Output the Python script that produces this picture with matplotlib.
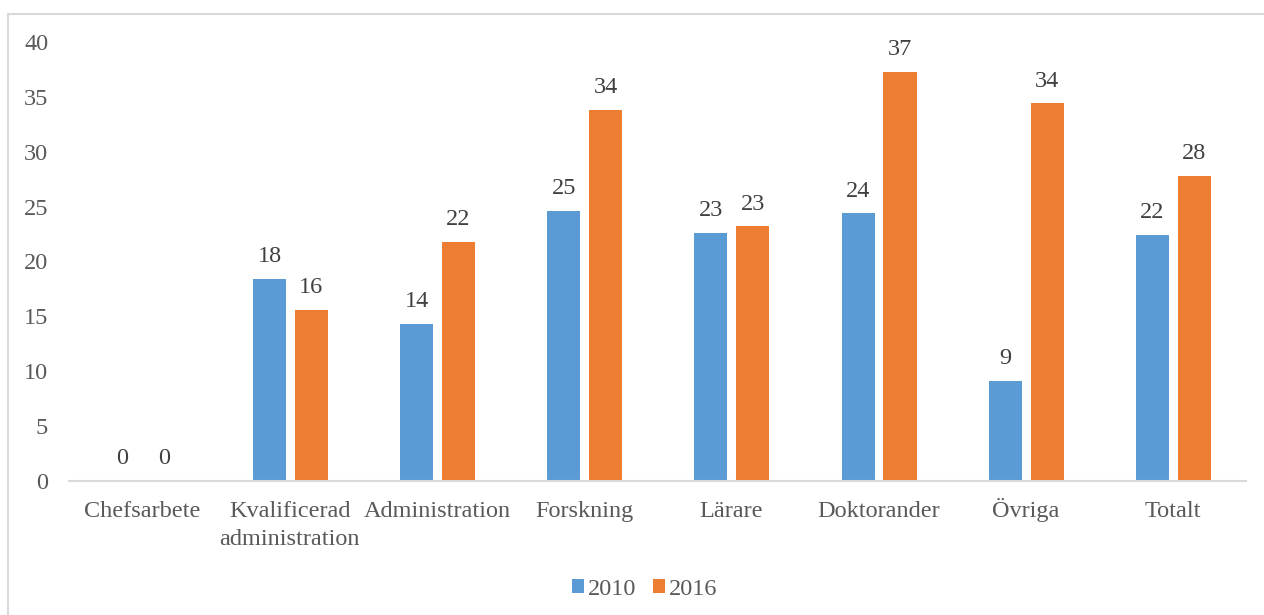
import matplotlib
matplotlib.use('Agg')
import matplotlib.pyplot as plt
import numpy as np
from matplotlib.lines import Line2D
from matplotlib.transforms import ScaledTranslation

# Datos
kategorier = ['Chefsarbete', 'Kvalificerad\nadministration', 'Administration',
              'Forskning', 'Lärare', 'Doktorander', 'Övriga', 'Totalt']
ar_2010 = [0, 18.4, 14.3, 24.6, 22.6, 24.4, 9.1, 22.4]
ar_2016 = [0, 15.6, 21.8, 33.8, 23.2, 37.3, 34.4, 27.8]
serier = ['2010', '2016']

BLA = '#5B9BD5'
ORANGE = '#ED7D31'
GRA = '#595959'

plt.rcParams['font.family'] = ['Liberation Serif', 'DejaVu Serif']
fs = 17.5

fig = plt.figure(figsize=(12.64, 6.15), dpi=100)
ax = fig.add_axes([0.0546, 0.2179, 0.9312, 0.7138])

x = np.arange(len(kategorier))
b = 0.225
ax.bar(x - 0.137, ar_2010, width=b, color=BLA, label=serier[0])
ax.bar(x + 0.148, ar_2016, width=b, color=ORANGE, label=serier[1])

# Etiquetas de datos
for xi, v in zip(x - 0.137, ar_2010):
    ax.annotate(f'{v:.0f}', (xi, v), xytext=(0, 12), textcoords='offset points',
                ha='center', va='baseline', fontsize=fs, color='#404040')
for xi, v in zip(x + 0.148, ar_2016):
    ax.annotate(f'{v:.0f}', (xi, v), xytext=(0, 12), textcoords='offset points',
                ha='center', va='baseline', fontsize=fs, color='#404040')

ax.set_xlim(-0.5, len(kategorier) - 0.5)
ax.set_ylim(0, 40)
ax.set_yticks(range(0, 41, 5))
ax.set_xticks(x)
# alineadas por la linea base para que la Ö no baje el texto
etiquetas = ax.set_xticklabels(kategorier, fontsize=fs, color=GRA,
                               linespacing=1.45, va='baseline')
ax.tick_params(axis='y', length=0, pad=15, labelsize=fs, labelcolor=GRA)
ax.tick_params(axis='x', length=0, pad=26)
# la etiqueta de dos lineas se baja una linea
for t in etiquetas:
    if '\n' in t.get_text():
        t.set_transform(t.get_transform() +
                        ScaledTranslation(0, -20 / 72, fig.dpi_scale_trans))
for s in ['top', 'right', 'left']:
    ax.spines[s].set_visible(False)
ax.spines['bottom'].set_color('#d9d9d9')
ax.spines['bottom'].set_linewidth(1.5)

fig.legend(loc='center', bbox_to_anchor=(0.51, 0.042), ncol=2, frameon=False,
           fontsize=fs, labelcolor=GRA, handlelength=0.5, handleheight=0.5,
           handletextpad=0.15, columnspacing=0.7)

# Marco del grafico (borde superior e izquierdo)
fig.add_artist(Line2D([8 / 1264, 1], [1 - 14 / 615, 1 - 14 / 615],
                      transform=fig.transFigure, color='#d9d9d9', lw=1.5))
fig.add_artist(Line2D([8 / 1264, 8 / 1264], [0, 1 - 14 / 615],
                      transform=fig.transFigure, color='#d9d9d9', lw=1.5))

fig.savefig('out.png', dpi=100, facecolor='white')
